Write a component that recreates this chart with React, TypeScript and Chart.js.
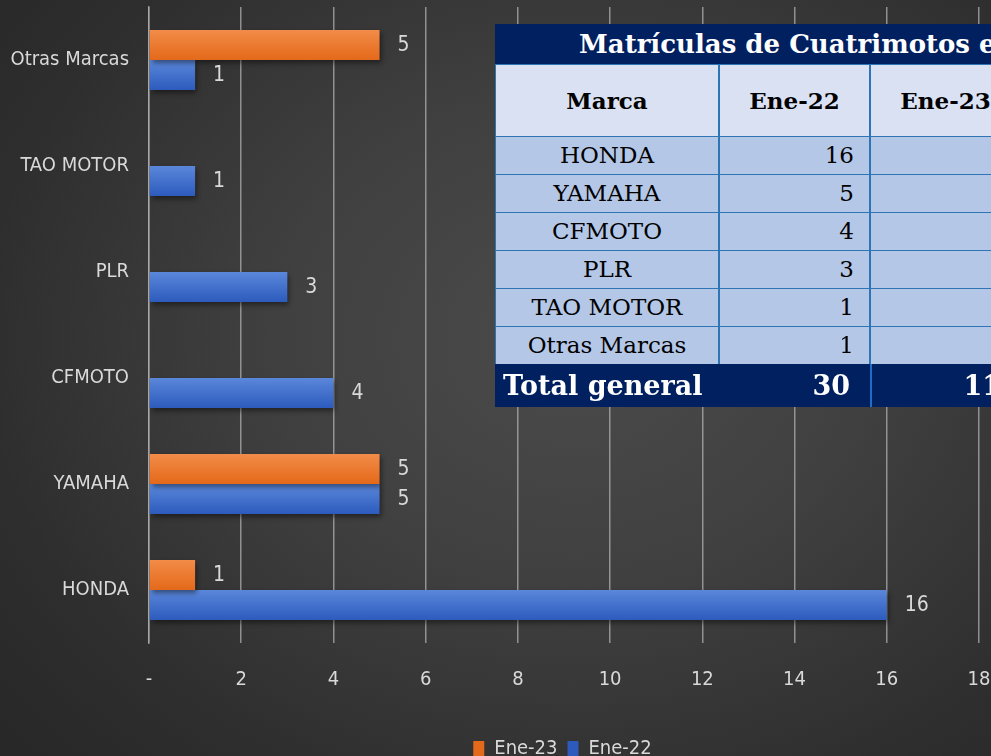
import React, { useEffect, useRef } from "react";
import { Chart, registerables } from "chart.js";

Chart.register(...registerables);

// ---------- data ----------
const categories = ["Otras Marcas", "TAO MOTOR", "PLR", "CFMOTO", "YAMAHA", "HONDA"];
const seriesEne23 = [5, null, null, null, 5, 1];
const seriesEne22 = [1, 1, 3, 4, 5, 16];
const seriesNames = ["Ene-23", "Ene-22"];
const xTickLabels = ["-", "2", "4", "6", "8", "10", "12", "14", "16", "18"];

const tableTitle = "Matrículas de Cuatrimotos en Enero";
const tableHeaders = ["Marca", "Ene-22", "Ene-23"];
const tableBrands = ["HONDA", "YAMAHA", "CFMOTO", "PLR", "TAO MOTOR", "Otras Marcas"];
const tableEne22 = ["16", "5", "4", "3", "1", "1"];
const tableEne23 = ["1", "5", "", "", "", "5"];
const totalLabel = "Total general";
const totalValues = ["30", "11"];

// ---------- style ----------
const FONT = '"DejaVu Sans Condensed", "Liberation Sans Narrow", "Open Sans", sans-serif';
const FS = 20;
const TXT = "#d9d9d9";
const GRID = "rgba(175,175,175,0.75)";
const ORANGE = ["#f28c48", "#e4691a"];
const BLUE = ["#5b87da", "#2c5bbd"];
const SOLID_ORANGE = "#ed7b30";
const SOLID_BLUE = "#4472c8";

function barFill(colors: string[], solid: string, upper: boolean) {
  return (c: any) => {
    const chart = c.chart;
    const ya = chart.scales && chart.scales.y;
    if (c.type !== "data" || !ya || !chart.chartArea) return solid;
    const center = ya.getPixelForValue(c.dataIndex);
    const top = upper ? center - 30 : center;
    const g = chart.ctx.createLinearGradient(0, top, 0, top + 30);
    g.addColorStop(0, colors[0]);
    g.addColorStop(1, colors[1]);
    return g;
  };
}

const barDecor = {
  id: "barDecor",
  beforeDatasetsDraw(chart: any) {
    const ctx = chart.ctx;
    ctx.save();
    ctx.shadowColor = "rgba(0,0,0,0.45)";
    ctx.shadowBlur = 5;
    ctx.shadowOffsetX = 2;
    ctx.shadowOffsetY = 3;
  },
  afterDatasetsDraw(chart: any) {
    const ctx = chart.ctx;
    ctx.restore();
    ctx.save();
    ctx.font = `21px ${FONT}`;
    ctx.fillStyle = TXT;
    ctx.textAlign = "left";
    ctx.textBaseline = "middle";
    chart.data.datasets.forEach((ds: any, di: number) => {
      const meta = chart.getDatasetMeta(di);
      meta.data.forEach((el: any, i: number) => {
        const v = ds.data[i];
        if (v === null || v === undefined) return;
        ctx.fillText(String(v), el.x + 18, el.y + 1);
      });
    });
    ctx.restore();
  },
};

const NAVY = "#012060";
const BORDER = "#2e75b6";
const HEAD_BG = "#dae1f3";
const ROW_BG = "#b4c7e7";
const SERIF = '"DejaVu Serif", "Liberation Serif", serif';
const colLeft = [0, 224, 375];
const colWidth = [224, 151, 151];

function Cell(props: any) {
  const { left, top, width, height, bg, children, align, pad, font, color, weight } = props;
  return (
    <div
      style={{
        position: "absolute",
        left,
        top,
        width,
        height,
        boxSizing: "border-box",
        background: bg,
        border: `1.5px solid ${BORDER}`,
        display: "flex",
        alignItems: "center",
        justifyContent: align === "right" ? "flex-end" : align === "left" ? "flex-start" : "center",
        paddingRight: align === "right" ? pad : 0,
        paddingLeft: align === "left" ? pad : 0,
        fontFamily: SERIF,
        fontSize: font,
        fontWeight: weight || "normal",
        color: color || "#000",
        whiteSpace: "nowrap",
        lineHeight: 1,
      }}
    >
      {children}
    </div>
  );
}

function DataTable() {
  const rowTop0 = 112;
  const rowH = 38;
  const totalTop = rowTop0 + rowH * tableBrands.length;
  return (
    <div style={{ position: "absolute", left: 495, top: 24, width: 560, height: 385 }}>
      <div
        style={{
          position: "absolute",
          left: 0,
          top: 0,
          width: 560,
          height: 40,
          background: NAVY,
          color: "#fff",
          fontFamily: SERIF,
          fontWeight: "bold",
          fontSize: 26,
          lineHeight: "40px",
          paddingLeft: 84,
          boxSizing: "border-box",
          whiteSpace: "nowrap",
        }}
      >
        {tableTitle}
      </div>
      {tableHeaders.map((h, i) => (
        <Cell key={"h" + i} left={colLeft[i]} top={40} width={colWidth[i]} height={73} bg={HEAD_BG} font={23} weight="bold">
          {h}
        </Cell>
      ))}
      {tableBrands.map((b, r) => (
        <React.Fragment key={"r" + r}>
          <Cell left={colLeft[0]} top={rowTop0 + r * rowH} width={colWidth[0]} height={rowH + 1.5} bg={ROW_BG} font={23}>
            {b}
          </Cell>
          <Cell left={colLeft[1]} top={rowTop0 + r * rowH} width={colWidth[1]} height={rowH + 1.5} bg={ROW_BG} font={23} align="right" pad={15}>
            {tableEne22[r]}
          </Cell>
          <Cell left={colLeft[2]} top={rowTop0 + r * rowH} width={colWidth[2]} height={rowH + 1.5} bg={ROW_BG} font={23} align="right" pad={15}>
            {tableEne23[r]}
          </Cell>
        </React.Fragment>
      ))}
      <div
        style={{
          position: "absolute",
          left: 0,
          top: totalTop,
          width: colWidth[0] + colWidth[1] + colWidth[2],
          height: 43,
          background: NAVY,
        }}
      />
      <div
        style={{
          position: "absolute",
          left: 8,
          top: totalTop,
          height: 43,
          lineHeight: "43px",
          color: "#fff",
          fontFamily: SERIF,
          fontWeight: "bold",
          fontSize: 27,
          whiteSpace: "nowrap",
        }}
      >
        {totalLabel}
      </div>
      {totalValues.map((v, i) => (
        <div
          key={"t" + i}
          style={{
            position: "absolute",
            left: colLeft[i + 1],
            top: totalTop,
            width: colWidth[i + 1],
            height: 43,
            lineHeight: "43px",
            boxSizing: "border-box",
            borderLeft: `2px solid ${i === 1 ? "#1f6fc8" : "transparent"}`,
            textAlign: "right",
            paddingRight: 20,
            color: "#fff",
            fontFamily: SERIF,
            fontWeight: "bold",
            fontSize: 27,
          }}
        >
          {v}
        </div>
      ))}
    </div>
  );
}

export default function App() {
  const ref = useRef<HTMLCanvasElement | null>(null);

  useEffect(() => {
    if (!ref.current) return;
    const chart = new Chart(ref.current, {
      type: "bar",
      data: {
        labels: categories,
        datasets: [
          {
            label: seriesNames[0],
            data: seriesEne23,
            backgroundColor: barFill(ORANGE, SOLID_ORANGE, true),
            borderColor: SOLID_ORANGE,
            borderWidth: 0,
            barPercentage: 1,
            categoryPercentage: 0.566,
          },
          {
            label: seriesNames[1],
            data: seriesEne22,
            backgroundColor: barFill(BLUE, SOLID_BLUE, false),
            borderColor: SOLID_BLUE,
            borderWidth: 0,
            barPercentage: 1,
            categoryPercentage: 0.566,
          },
        ],
      },
      options: {
        indexAxis: "y",
        animation: false,
        responsive: false,
        maintainAspectRatio: false,
        layout: { padding: { top: 7, left: 0, right: 0, bottom: 0 } },
        scales: {
          x: {
            min: 0,
            max: 18,
            ticks: {
              stepSize: 2,
              color: TXT,
              font: { family: FONT, size: FS },
              padding: 25,
              callback: (_v: any, i: number) => xTickLabels[i],
            },
            grid: { color: GRID, lineWidth: 1.5, drawTicks: false },
            border: { display: false },
            afterFit: (s: any) => {
              s.height = 86;
            },
          },
          y: {
            ticks: { color: TXT, font: { family: FONT, size: FS }, padding: 20 },
            grid: { display: false, drawTicks: false },
            border: { display: true, color: GRID, width: 1.5 },
            afterFit: (s: any) => {
              s.width = 149;
              s.paddingTop = 0;
              s.paddingBottom = 0;
            },
          },
          yRight: {
            type: "linear",
            position: "right",
            display: true,
            ticks: { display: false },
            grid: { display: false, drawTicks: false },
            border: { display: false },
            afterFit: (s: any) => {
              s.width = 146;
              s.paddingTop = 0;
              s.paddingBottom = 0;
            },
          },
        },
        plugins: {
          legend: {
            position: "bottom",
            labels: {
              color: TXT,
              font: { family: FONT, size: FS },
              boxWidth: 11,
              boxHeight: 16,
              padding: 10,
            },
          },
          tooltip: { enabled: false },
        },
      } as any,
      plugins: [barDecor],
    });
    return () => chart.destroy();
  }, []);

  return (
    <div
      style={{
        position: "fixed",
        left: 0,
        top: 0,
        width: 991,
        height: 756,
        overflow: "hidden",
        background:
          "radial-gradient(ellipse 75% 80% at 58% 45%, #4b4b4b 0%, #404040 40%, #2e2e2e 80%, #282828 100%)",
      }}
    >
      <div style={{ position: "absolute", left: 0, top: 0, width: 1125, height: 769 }}>
        <canvas ref={ref} width={1125} height={769} style={{ width: 1125, height: 769, display: "block" }} />
      </div>
      <DataTable />
    </div>
  );
}
